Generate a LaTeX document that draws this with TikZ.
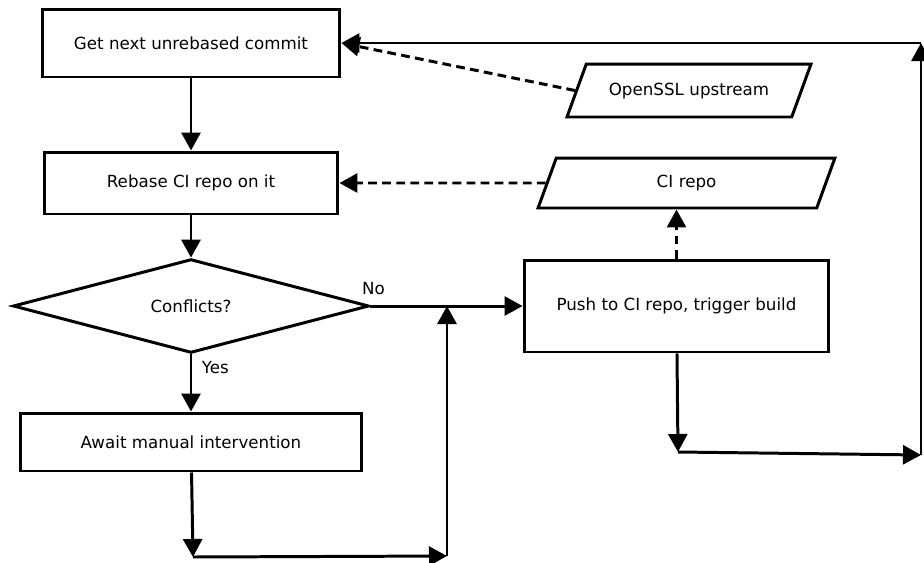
\documentclass[tikz,border=0pt]{standalone}
\usepackage{fontspec}
\setmainfont{DejaVu Sans}
\usetikzlibrary{arrows.meta,shapes.geometric}

\begin{document}
\begin{tikzpicture}[x=0.02cm,y=-0.02cm,font=\fontsize{9.5}{11.5}\selectfont,
  flow/.style={line width=1.7pt,-{Triangle[length=0.36cm,width=0.38cm]}},
  dataflow/.style={flow,dash pattern=on 5pt off 3pt},
  process/.style={draw,line width=1.7pt,rectangle,inner sep=0pt},
  decision/.style={draw,line width=1.7pt,diamond,inner sep=0pt},
  store/.style={draw,line width=1.7pt,trapezium,trapezium left angle=70,trapezium right angle=110,
    inner sep=0pt,align=center}]
\useasboundingbox (0,0) rectangle (924,562);

\node[process,minimum width=5.96cm,minimum height=1.36cm] (next) at (191,43) {Get next unrebased commit};
\node[process,minimum width=5.88cm,minimum height=1.24cm] (rebase) at (191,183) {Rebase CI repo on it};
\node[decision,minimum width=7.12cm,minimum height=1.82cm] (conflicts) at (191,306) {Conflicts?};
\node[process,minimum width=6.82cm,minimum height=1.16cm] (await) at (191,442) {Await manual intervention};
\node[process,minimum width=6.1cm,minimum height=1.84cm] (push) at (676.5,306) {Push to CI repo, trigger build};
\node[store,text width=4.11cm,text height=0.62cm,text depth=0.44cm] (upstream) at (689,90.5) {OpenSSL upstream};
\node[store,text width=5.21cm,text height=0.59cm,text depth=0.41cm] (cirepo) at (686.5,183) {CI repo};

\coordinate (awaitend) at (193,557);
\coordinate (mergeend) at (447,556);
\coordinate (merge) at (447,306);
\coordinate (pushend) at (678,452);
\coordinate (loopend) at (921,455);
\coordinate (looptop) at (921,43);

\draw[flow] (next) -- (rebase);
\draw[flow] (rebase) -- (conflicts);
\draw[flow] (conflicts) -- node[pos=0.23,anchor=west,xshift=2pt] {Yes} (await);
\draw[flow] (conflicts) -- node[pos=0.02,above,yshift=2pt] {No} (push);

\draw[flow] (await) -- (awaitend);
\draw[flow] (awaitend) -- (mergeend);
\draw[flow] (mergeend) -- (merge);

\draw[flow] (push) -- (pushend);
\draw[flow] (pushend) -- (loopend);
\draw[flow] (loopend) -- (looptop);
\draw[flow] (looptop) -- (next.east);

\draw[dataflow] (upstream.west) -- (next.east);
\draw[dataflow] (cirepo.west) -- (rebase.east);
\draw[dataflow] (push.north) -- (cirepo.south -| push.north);
\end{tikzpicture}
\end{document}
